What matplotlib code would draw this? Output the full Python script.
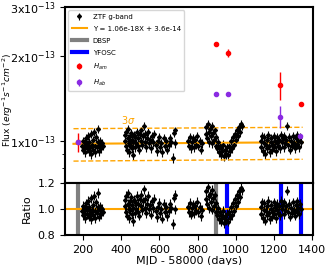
import numpy as np
import matplotlib
matplotlib.use("Agg")
import matplotlib.pyplot as plt
from matplotlib.ticker import NullFormatter

# ZTF g-band light curve (MJD - 58000, flux in 1e-13 erg/s/cm2)
ztf_day = [196, 199, 202, 205, 208, 212, 215, 219, 222, 226, 229, 233, 236, 240, 243,
           247, 250, 254, 257, 261, 265, 268, 272, 276, 280, 283, 287, 291, 295, 300, 305,
           418, 421, 424, 427, 430, 433, 436, 439, 442, 445, 448, 451, 454, 457, 460,
           463, 467, 470, 474, 478, 482, 486, 490, 494, 498, 502, 506, 510, 514, 518,
           522, 526, 530, 535, 540, 545, 550, 556, 562, 568, 574, 580, 586, 592, 598,
           604, 610, 616, 622, 628, 634, 640, 648, 655, 662, 670, 675, 680, 684,
           752, 757, 762, 767, 772, 777, 782, 787, 792, 798, 804, 810, 816, 822,
           842, 846, 850, 854, 858, 862, 866, 870, 874, 878, 882, 886, 890, 894, 898,
           902, 906, 910, 915, 920, 925, 930, 935, 940, 945, 950, 955, 960, 965, 970,
           975, 980, 985, 990, 995, 1000, 1005, 1010, 1015, 1020, 1025, 1030,
           1130, 1134, 1138, 1142, 1146, 1150, 1154, 1158, 1162, 1166, 1170, 1174, 1178,
           1182, 1186, 1190, 1194, 1198, 1202, 1206, 1210, 1214, 1218, 1222, 1226, 1230,
           1235, 1240, 1245, 1250, 1255, 1260, 1265, 1269, 1274, 1278, 1283, 1288, 1293,
           1298, 1303, 1308, 1313, 1318, 1323, 1328, 1333, 1338, 1342]
ztf_flux = [0.96, 0.93, 1.00, 0.95, 0.91, 0.98, 1.02, 0.94, 0.97, 1.04, 0.92, 0.99, 0.95, 1.06, 0.90,
            0.97, 1.01, 0.93, 1.08, 0.96, 0.91, 1.03, 0.95, 0.99, 1.10, 0.92, 0.97, 1.00, 0.94, 0.98, 0.96,
            1.00, 1.05, 0.96, 1.08, 0.93, 1.02, 1.10, 0.98, 0.91, 1.04, 0.97, 1.07, 0.94, 1.01, 0.89,
            0.99, 1.05, 0.95, 1.03, 0.98, 1.08, 0.96, 1.02, 0.93, 1.06, 1.00, 1.09, 0.97, 1.04, 1.13,
            0.99, 1.06, 0.95, 1.02, 1.08, 0.98, 1.01, 0.94, 1.04, 0.99, 1.06, 0.97, 0.92, 1.00, 1.03,
            0.95, 0.98, 0.91, 1.02, 0.96, 1.00, 0.93, 0.97, 1.02, 0.99, 0.87, 1.07, 1.09, 0.98,
            1.00, 0.96, 1.03, 0.94, 0.99, 1.02, 0.95, 1.01, 0.97, 1.04, 0.96, 1.00, 0.93, 0.98,
            1.06, 1.12, 1.02, 1.15, 1.08, 0.99, 1.10, 1.04, 1.13, 0.98, 1.07, 1.01, 1.09, 0.96, 1.03,
            0.94, 0.99, 0.91, 0.96, 0.89, 0.94, 0.92, 0.97, 0.88, 0.93, 0.90, 0.95, 0.89, 0.96, 0.92,
            1.00, 0.94, 1.03, 0.97, 1.06, 1.01, 1.09, 1.04, 1.12, 1.08, 1.15, 1.13,
            1.00, 0.95, 1.04, 0.92, 0.98, 1.03, 0.90, 0.97, 1.01, 0.94, 1.05, 0.96, 0.91,
            0.99, 1.02, 0.93, 0.97, 1.04, 0.95, 1.00, 0.92, 0.98, 1.03, 0.96, 1.01, 0.94,
            1.05, 0.99, 1.02, 0.95, 1.04, 0.98, 1.01, 1.13, 0.97, 1.03, 0.93, 1.00, 0.96,
            1.04, 0.98, 0.94, 1.02, 0.97, 1.05, 1.00, 0.95, 1.03, 0.99]
ztf_err = 0.035

# H-alpha derived fluxes (1e-13)
ham_day = [174, 897, 958, 1232, 1341]
ham_flux = [0.99, 2.21, 2.06, 1.58, 1.35]
ham_err = [0.08, 0.0, 0.07, 0.18, 0.0]
hab_day = [174, 897, 958, 1232, 1338]
hab_flux = [0.99, 1.47, 1.47, 1.22, 1.04]
hab_err = [0.0, 0.0, 0.0, 0.11, 0.0]

# spectra epochs
dbsp_day = [174, 897]
yfosc_day = [955, 1238, 1343]

# linear fit, X = MJD
slope = 1.06e-18
intercept = 3.6e-14
sigma = 4.3e-15
fit_range = [150, 1350]

scale = 1e-13
ztf_day = np.array(ztf_day)
ztf_flux = np.array(ztf_flux) * scale


def fit(day):
    return slope * (np.asarray(day) + 58000) + intercept


fig = plt.figure(figsize=(3.31, 2.65), dpi=100)
gs = fig.add_gridspec(2, 1, height_ratios=[3.4, 1], hspace=0,
                      left=0.196, right=0.946, top=0.974, bottom=0.113)
ax = fig.add_subplot(gs[0])
axr = fig.add_subplot(gs[1], sharex=ax)

# top panel
h_ztf = ax.errorbar(ztf_day, ztf_flux, yerr=ztf_err * scale, fmt='D', color='black',
                    ms=2, elinewidth=0.8)
xx = np.linspace(fit_range[0], fit_range[1], 50)
h_fit, = ax.plot(xx, fit(xx), color='orange', lw=1.5)
ax.plot(xx, fit(xx) + 3 * sigma, color='orange', lw=1, ls='--')
ax.plot(xx, fit(xx) - 3 * sigma, color='orange', lw=1, ls='--')
ax.text(436, 1.19e-13, r'3$\sigma$', color='orange', fontsize=7, ha='center', va='center')
h_dbsp, = ax.plot([], [], color='gray', lw=3)
h_yfosc, = ax.plot([], [], color='blue', lw=3)
h_am = ax.errorbar(ham_day, np.array(ham_flux) * scale, yerr=np.array(ham_err) * scale,
                   fmt='o', color='red', ms=3, elinewidth=1)
h_ab = ax.errorbar(hab_day, np.array(hab_flux) * scale, yerr=np.array(hab_err) * scale,
                   fmt='o', color='blueviolet', ms=3, elinewidth=1)

ax.set_yscale('log')
ax.set_ylim(7.07e-14, 3e-13)
ax.set_yticks([1e-13, 2e-13, 3e-13])
ax.set_yticklabels([r'1x10$^{-13}$', r'2x10$^{-13}$', r'3x10$^{-13}$'])
ax.yaxis.set_minor_formatter(NullFormatter())
ax.set_ylabel(r'Flux ($erg^{-1}s^{-1}cm^{-2}$)', fontsize=6.6)
ax.yaxis.set_label_coords(-0.2, 0.47)
ax.tick_params(labelsize=8, labelbottom=False)
ax.legend([h_ztf, h_fit, h_dbsp, h_yfosc, h_am, h_ab],
          ['ZTF g-band', 'Y = 1.06e-18X + 3.6e-14', 'DBSP', 'YFOSC', r'$H_{am}$', r'$H_{ab}$'],
          loc='upper left', fontsize=5, labelspacing=0.85, borderpad=0.5,
          handlelength=2.2)

# ratio panel
for d in dbsp_day:
    axr.axvline(d, color='gray', lw=3)
for d in yfosc_day:
    axr.axvline(d, color='blue', lw=3)
axr.axhline(1.0, color='orange', lw=1.5)
axr.errorbar(ztf_day, ztf_flux / fit(ztf_day), yerr=ztf_err * scale / fit(ztf_day),
             fmt='D', color='black', ms=2, elinewidth=0.8)
axr.set_ylim(0.8, 1.2)
axr.set_yticks([0.8, 1.0, 1.2])
axr.set_xlim(105, 1405)
axr.set_xticks([200, 400, 600, 800, 1000, 1200, 1400])
axr.set_ylabel('Ratio', fontsize=8)
axr.set_xlabel('MJD - 58000 (days)', fontsize=8, labelpad=1)
axr.tick_params(labelsize=8)

for a in (ax, axr):
    for s in a.spines.values():
        s.set_linewidth(1.5)

fig.savefig('out.png', dpi=100)
